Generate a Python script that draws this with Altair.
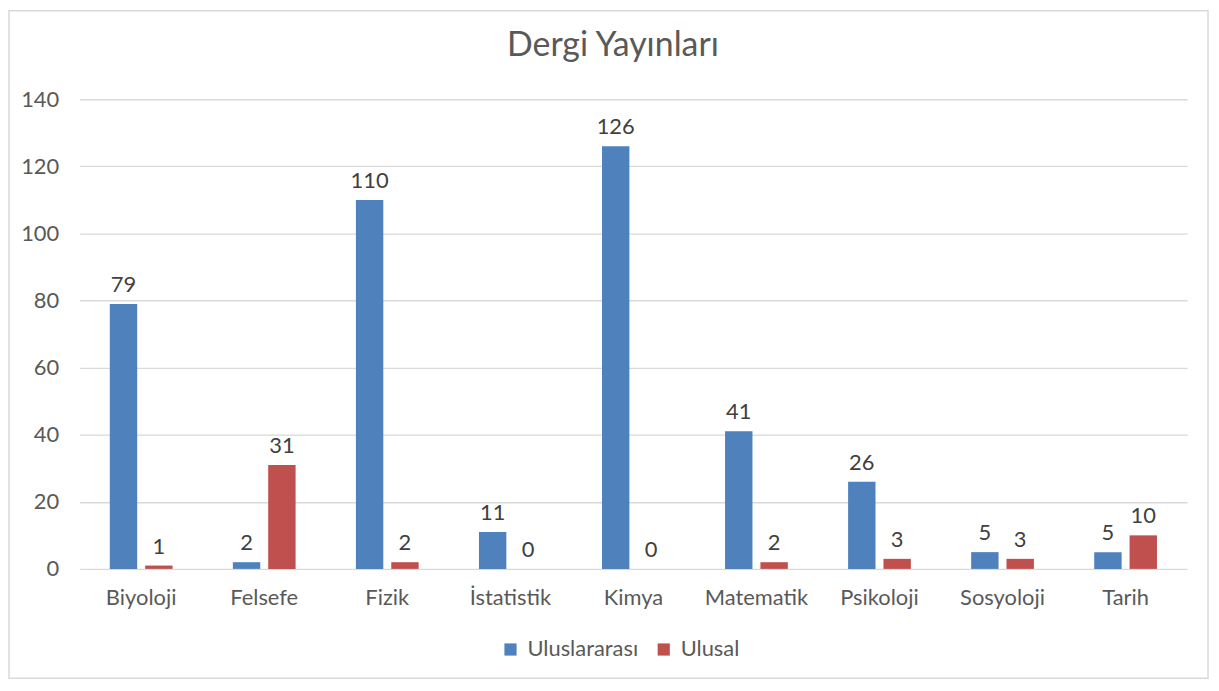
import altair as alt
import pandas as pd

categories = ["Biyoloji", "Felsefe", "Fizik", "İstatistik", "Kimya",
              "Matematik", "Psikoloji", "Sosyoloji", "Tarih"]
uluslararasi = [79, 2, 110, 11, 126, 41, 26, 5, 5]
ulusal = [1, 31, 2, 0, 0, 2, 3, 3, 10]
series = ["Uluslararası", "Ulusal"]
colors = ["#4F81BD", "#C0504D"]
y_ticks = [0, 20, 40, 60, 80, 100, 120, 140]
title_text = "Dergi Yayınları"

rows = []
for c, a, b in zip(categories, uluslararasi, ulusal):
    rows.append({"alan": c, "seri": series[0], "deger": a})
    rows.append({"alan": c, "seri": series[1], "deger": b})
df = pd.DataFrame(rows)

FONT = "Lato"
FS = 22
W, H = 1113, 472

base = alt.Chart(df).encode(
    x=alt.X("alan:N", sort=categories,
            scale=alt.Scale(paddingInner=0.49, paddingOuter=0.245),
            axis=alt.Axis(title=None, labelAngle=0, ticks=False, domain=False,
                          labelPadding=19, labelFontSize=FS, labelColor="#595959",
                          labelFont=FONT)),
    xOffset=alt.XOffset("seri:N", sort=series,
                        scale=alt.Scale(paddingInner=0.225, paddingOuter=0)),
    y=alt.Y("deger:Q", scale=alt.Scale(domain=[0, 140], nice=False),
            axis=alt.Axis(title=None, values=y_ticks, ticks=False, domain=False,
                          labelPadding=21, labelFontSize=FS, labelColor="#595959",
                          labelFont=FONT, gridColor="#d9d9d9", gridWidth=1.3)),
)

bars = base.mark_bar().encode(
    color=alt.Color("seri:N", sort=series,
                    scale=alt.Scale(domain=series, range=colors),
                    legend=alt.Legend(title=None, orient="none", legendX=422, legendY=542,
                                      direction="horizontal", symbolType="square",
                                      symbolSize=150, symbolStrokeWidth=0,
                                      labelFontSize=FS, labelFont=FONT,
                                      labelColor="#595959", columnPadding=14,
                                      labelOffset=6))
)

labels = base.mark_text(baseline="bottom", dy=-7, fontSize=FS, font=FONT,
                        color="#404040").encode(text="deger:Q")

single = pd.DataFrame({"t": [title_text]})
frame = alt.Chart(single).mark_rect(
    fill="transparent", stroke="#d9d9d9", strokeWidth=1.5
).encode(x=alt.value(-71), x2=alt.value(1134), y=alt.value(-89), y2=alt.value(582))

title = alt.Chart(single).mark_text(
    fontSize=34, font=FONT, color="#595959", baseline="alphabetic", align="center"
).encode(x=alt.value(536), y=alt.value(-43), text="t:N")

chart = alt.layer(frame, title, bars, labels).properties(
    width=W, height=H,
    autosize=alt.AutoSizeParams(type="none"),
    padding={"left": 72, "top": 90, "right": 24, "bottom": 120},
).configure_view(stroke="transparent")

chart.save("out.html", embed_options={"renderer": "svg", "actions": False})
